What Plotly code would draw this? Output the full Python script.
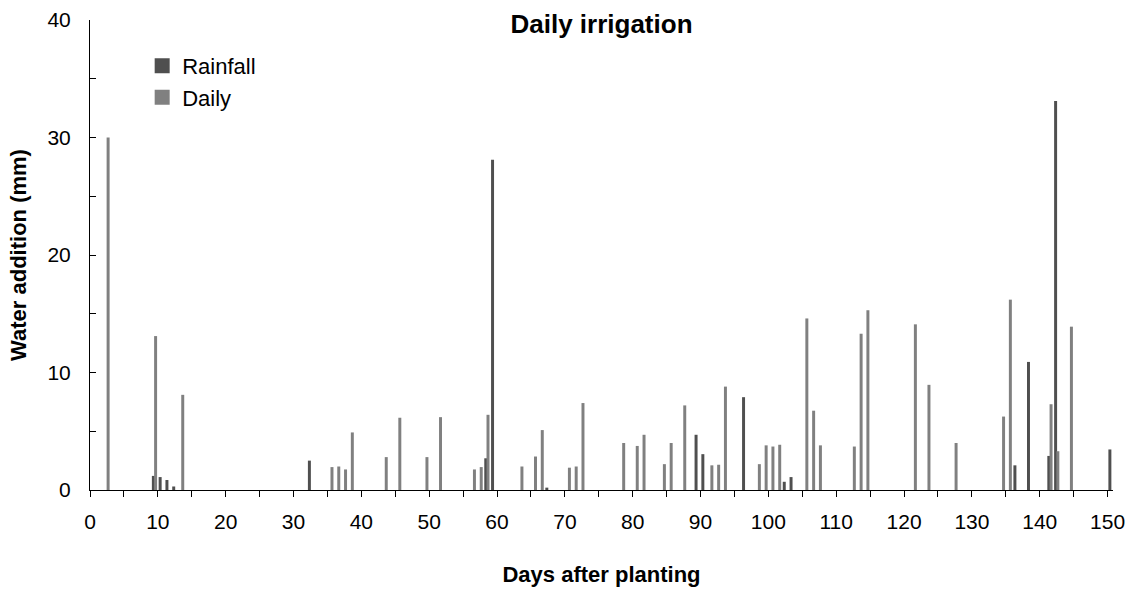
import plotly.graph_objects as go

# ---- data ----
rain_days = [9, 10, 11, 12, 32, 58, 59, 67, 89, 90, 96, 102, 103, 136, 138, 141, 142, 150]
rain_mm = [1.2, 1.1, 0.85, 0.3, 2.5, 2.7, 28.1, 0.2, 4.7, 3.05, 7.9, 0.7, 1.1, 2.1, 10.9, 2.9, 33.1, 3.45]

daily_days = [2, 9, 13, 35, 36, 37, 38, 43, 45, 49, 51, 56, 57, 58, 63, 65, 66, 70, 71, 72,
              78, 80, 81, 84, 85, 87, 91, 92, 93, 98, 99, 100, 101, 105, 106, 107, 112, 113,
              114, 121, 123, 127, 134, 135, 141, 142, 144]
daily_mm = [30, 13.1, 8.1, 1.95, 2.0, 1.75, 4.9, 2.8, 6.15, 2.8, 6.2, 1.75, 1.95, 6.4, 2.0, 2.85,
            5.1, 1.9, 2.0, 7.4, 4.0, 3.75, 4.7, 2.2, 4.0, 7.2, 2.1, 2.15, 8.8, 2.2, 3.8, 3.7,
            3.85, 14.6, 6.75, 3.8, 3.7, 13.3, 15.3, 14.1, 8.95, 4.0, 6.25, 16.2, 7.3, 3.3, 13.9]

series_names = ["Rainfall", "Daily"]
series_colors = ["#4f4f4f", "#808080"]

FONT = "Liberation Sans, Arial, sans-serif"

fig = go.Figure()
fig.add_trace(go.Bar(
    x=rain_days, y=rain_mm, name=series_names[0], showlegend=False,
    marker=dict(color=series_colors[0], line=dict(width=0)),
    offset=0.12, width=0.44,
))
fig.add_trace(go.Bar(
    x=daily_days, y=daily_mm, name=series_names[1], showlegend=False,
    marker=dict(color=series_colors[1], line=dict(width=0)),
    offset=0.45, width=0.44,
))
# legend entries with square swatches
for i, (nm, col) in enumerate(zip(series_names, series_colors)):
    fig.add_trace(go.Scatter(
        x=[None], y=[None], mode="markers", name=nm, legendgroup=nm,
        marker=dict(symbol="square", size=15, color=col),
        showlegend=True,
    ))

fig.update_layout(
    width=1135, height=590,
    margin=dict(l=90, r=22, t=20, b=100, autoexpand=False),
    paper_bgcolor="white", plot_bgcolor="white",
    barmode="overlay",
    font=dict(family=FONT, color="black", size=21),
    title=dict(text="<b>Daily irrigation</b>", x=0.5, xref="paper",
               y=1 - 24 / 590, yanchor="middle", yref="container",
               font=dict(size=26, family=FONT, color="black")),
    showlegend=True,
    legend=dict(x=0.051, y=0.947, xanchor="left", yanchor="top",
                bgcolor="rgba(0,0,0,0)", font=dict(size=22, family=FONT),
                traceorder="normal", itemsizing="trace", tracegroupgap=4),
    xaxis=dict(
        range=[0, 150.8], tickmode="linear", tick0=0, dtick=10,
        ticks="outside", ticklen=6, tickcolor="black", tickwidth=1,
        minor=dict(dtick=5, tick0=0, ticks="outside", ticklen=6, tickcolor="black", tickwidth=1),
        showline=True, linecolor="black", linewidth=1,
        showgrid=False, zeroline=False, automargin=False,
        ticklabelstandoff=7,
        title=dict(text="<b>Days after planting</b>", font=dict(size=22, family=FONT), standoff=34),
    ),
    yaxis=dict(
        range=[0, 40], tickmode="linear", tick0=0, dtick=10,
        ticks="inside", ticklen=6, tickcolor="black", tickwidth=1,
        minor=dict(dtick=5, tick0=0, ticks="inside", ticklen=6, tickcolor="black", tickwidth=1),
        showline=True, linecolor="black", linewidth=1,
        showgrid=False, zeroline=False, automargin=False,
        ticklabelstandoff=14,
        title=dict(text="<b>Water addition (mm)</b>", font=dict(size=22, family=FONT), standoff=14),
    ),
)

fig.write_html("out.html")
